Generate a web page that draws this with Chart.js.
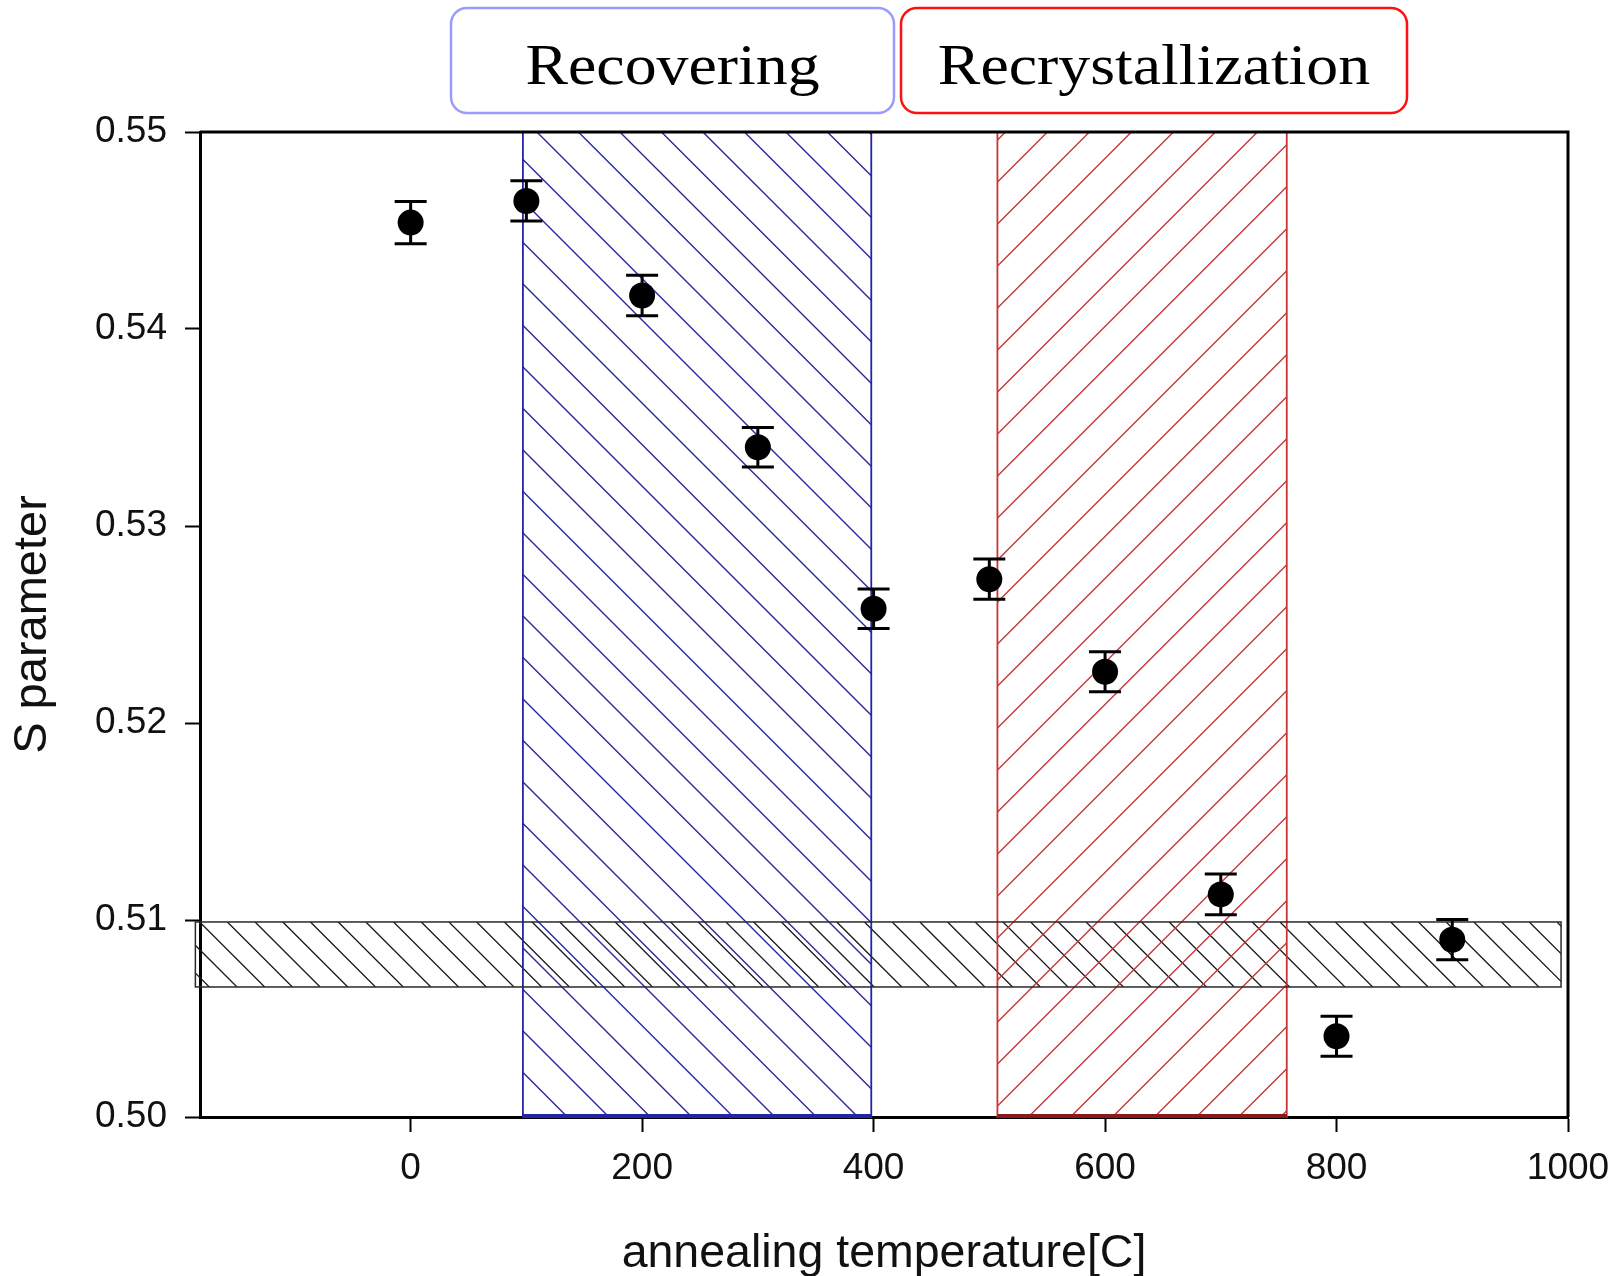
<!DOCTYPE html>
<html lang="en">
<head>
<meta charset="UTF-8">
<title>S parameter vs annealing temperature</title>
<script src="https://cdn.jsdelivr.net/npm/chart.js@4.4.1/dist/chart.umd.min.js"></script>
<style>
  body { margin: 0; background: #fff; }
  canvas { display: block; }
</style>
</head>
<body>
<canvas id="myChart" width="1614" height="1276"></canvas>
<script>
  // annealing temperature [C] and measured S parameter with error
  const temps = [0, 100, 200, 300, 400, 500, 600, 700, 800, 900];
  const sValues = [0.5454, 0.5465, 0.5417, 0.5340, 0.5258, 0.5273, 0.5226, 0.5113, 0.5041, 0.5090];
  const sErrors = [0.00107, 0.00102, 0.00103, 0.00100, 0.00100, 0.00102, 0.00102, 0.00103, 0.00102, 0.00102];

  const xTicks = [0, 200, 400, 600, 800, 1000];
  const yTicks = [0.50, 0.51, 0.52, 0.53, 0.54, 0.55];

  // shaded regions (data units)
  const recoverRange = [97, 398];
  const recrystRange = [507, 757];
  const bandX = [-186, 994];
  const bandY = [0.5066, 0.5099];

  const regionLabels = ['Recovering', 'Recrystallization'];

  const sans = 'Liberation Sans, Arial, sans-serif';

  // diagonal hatch clipped to a rect. dir 1 = "\" , -1 = "/"
  function hatch(ctx, x0, y0, x1, y1, step, phase, dir, color, width) {
    const h = y1 - y0;
    ctx.save();
    ctx.beginPath();
    ctx.rect(x0, y0, x1 - x0, h);
    ctx.clip();
    ctx.strokeStyle = color;
    ctx.lineWidth = width;
    ctx.beginPath();
    let c = x0 + phase - Math.ceil(h / step + 1) * step;
    for (; c < x1 + step; c += step) {
      if (dir > 0) {
        ctx.moveTo(c, y0); ctx.lineTo(c + h, y1);
      } else {
        ctx.moveTo(c, y1); ctx.lineTo(c + h, y0);
      }
    }
    ctx.stroke();
    ctx.restore();
  }

  function roundBox(ctx, x0, y0, x1, y1, r) {
    ctx.beginPath();
    ctx.moveTo(x0 + r, y0);
    ctx.arcTo(x1, y0, x1, y1, r);
    ctx.arcTo(x1, y1, x0, y1, r);
    ctx.arcTo(x0, y1, x0, y0, r);
    ctx.arcTo(x0, y0, x1, y0, r);
    ctx.closePath();
  }

  const regions = {
    id: 'regions',
    beforeDatasetsDraw(chart) {
      const {ctx, chartArea: a, scales: {x, y}} = chart;

      // horizontal band
      const bx0 = x.getPixelForValue(bandX[0]), bx1 = x.getPixelForValue(bandX[1]);
      const by0 = y.getPixelForValue(bandY[1]), by1 = y.getPixelForValue(bandY[0]);
      hatch(ctx, bx0, by0, bx1, by1, 27.7, 32, 1, '#1a1a1a', 1.3);

      // recovering region (blue)
      const r0 = x.getPixelForValue(recoverRange[0]), r1 = x.getPixelForValue(recoverRange[1]);
      hatch(ctx, r0, a.top, r1, a.bottom, 41.5, 14, 1, '#2a2a9c', 1.4);
      ctx.strokeStyle = '#2424a6';
      ctx.lineWidth = 1.8;
      ctx.strokeRect(r0, a.top, r1 - r0, a.bottom - a.top);
      ctx.lineWidth = 4;
      ctx.beginPath(); ctx.moveTo(r0, a.bottom - 1); ctx.lineTo(r1, a.bottom - 1); ctx.stroke();

      // recrystallization region (red)
      const c0 = x.getPixelForValue(recrystRange[0]), c1 = x.getPixelForValue(recrystRange[1]);
      hatch(ctx, c0, a.top, c1, a.bottom, 42, 31, -1, '#c43a3c', 1.4);
      ctx.strokeStyle = '#cc3434';
      ctx.lineWidth = 1.8;
      ctx.strokeRect(c0, a.top, c1 - c0, a.bottom - a.top);
      ctx.strokeStyle = '#8a1a1a';
      ctx.lineWidth = 4;
      ctx.beginPath(); ctx.moveTo(c0, a.bottom - 1); ctx.lineTo(c1, a.bottom - 1); ctx.stroke();

      // band outline
      ctx.strokeStyle = '#2a2a2a';
      ctx.lineWidth = 1.5;
      ctx.strokeRect(bx0, by0, bx1 - bx0, by1 - by0);

      // top and right frame
      ctx.strokeStyle = '#000';
      ctx.lineWidth = 3;
      ctx.beginPath();
      ctx.moveTo(a.left, a.top); ctx.lineTo(a.right, a.top); ctx.lineTo(a.right, a.bottom);
      ctx.stroke();

      // error bars
      ctx.lineWidth = 3;
      temps.forEach((t, i) => {
        const px = x.getPixelForValue(t);
        const yt = y.getPixelForValue(sValues[i] + sErrors[i]);
        const yb = y.getPixelForValue(sValues[i] - sErrors[i]);
        ctx.beginPath();
        ctx.moveTo(px, yt); ctx.lineTo(px, yb);
        ctx.moveTo(px - 16, yt); ctx.lineTo(px + 16, yt);
        ctx.moveTo(px - 16, yb); ctx.lineTo(px + 16, yb);
        ctx.stroke();
      });
    },
    afterDraw(chart) {
      const ctx = chart.ctx;
      const boxes = [
        {x0: 451, x1: 894, color: '#9a9aff'},
        {x0: 901, x1: 1407, color: '#ff1010'}
      ];
      boxes.forEach((b, i) => {
        ctx.save();
        roundBox(ctx, b.x0, 8, b.x1, 113, 16);
        ctx.fillStyle = '#fff';
        ctx.fill();
        ctx.strokeStyle = b.color;
        ctx.lineWidth = 2.5;
        ctx.stroke();
        ctx.translate((b.x0 + b.x1) / 2, 84);
        ctx.scale(1.1, 1);
        ctx.font = '58px "Liberation Serif", "Times New Roman", serif';
        ctx.fillStyle = '#000';
        ctx.textAlign = 'center';
        ctx.textBaseline = 'alphabetic';
        ctx.fillText(regionLabels[i], 0, 0);
        ctx.restore();
      });
    }
  };

  new Chart(document.getElementById('myChart'), {
    type: 'scatter',
    data: {
      datasets: [{
        label: 'S parameter',
        data: temps.map((t, i) => ({x: t, y: sValues[i]})),
        pointRadius: 13,
        pointHoverRadius: 13,
        pointBackgroundColor: '#000',
        pointBorderWidth: 0,
        showLine: false
      }]
    },
    options: {
      responsive: false,
      animation: false,
      events: [],
      layout: { padding: { top: 132, right: 46, left: 0, bottom: 0 } },
      plugins: {
        legend: { display: false },
        tooltip: { enabled: false }
      },
      scales: {
        x: {
          type: 'linear',
          min: -182,
          max: 1000,
          afterFit: s => {
            s.height = 159;
            s.paddingLeft = 0;
            s.paddingRight = 0;
          },
          afterBuildTicks: s => { s.ticks = xTicks.map(v => ({value: v})); },
          grid: { drawOnChartArea: false, drawTicks: true, tickLength: 15, tickWidth: 2, tickColor: '#000' },
          border: { display: true, color: '#000', width: 3 },
          ticks: {
            padding: 15,
            color: '#111',
            font: { family: sans, size: 37 },
            callback: v => String(v)
          },
          title: {
            display: true,
            text: 'annealing temperature[C]',
            color: '#111',
            font: { family: sans, size: 46.5, lineHeight: 0.95 },
            padding: { top: 0, bottom: 0 }
          }
        },
        y: {
          type: 'linear',
          min: 0.50,
          max: 0.55,
          afterFit: s => { s.width = 200; },
          afterBuildTicks: s => { s.ticks = yTicks.map(v => ({value: v})); },
          grid: { drawOnChartArea: false, drawTicks: true, tickLength: 15, tickWidth: 2, tickColor: '#000' },
          border: { display: true, color: '#000', width: 3 },
          ticks: {
            padding: 18,
            color: '#111',
            font: { family: sans, size: 37 },
            callback: v => v.toFixed(2)
          },
          title: {
            display: true,
            text: 'S parameter',
            color: '#111',
            font: { family: sans, size: 47 },
            padding: { top: 5, bottom: 0 }
          }
        }
      }
    },
    plugins: [regions]
  });
</script>
</body>
</html>
